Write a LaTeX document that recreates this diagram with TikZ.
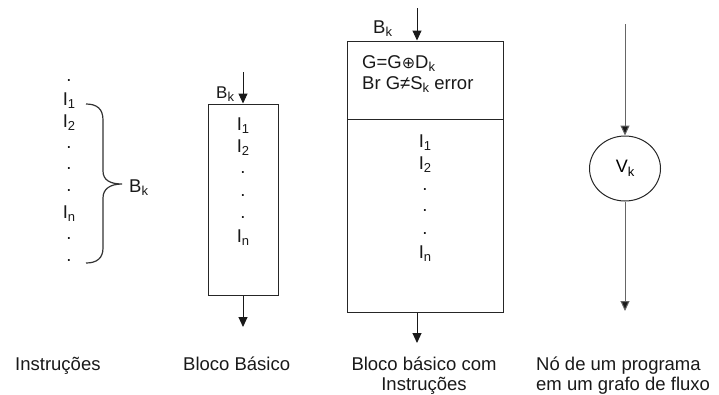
\documentclass[tikz,border=0pt]{standalone}
\usepackage{fontspec}
\setmainfont{Liberation Sans}
\newfontfamily\djv{DejaVu Sans}
\usetikzlibrary{arrows.meta,shapes.geometric}
\newcommand\sbs[1]{\raisebox{-0.4ex}{\fontsize{13}{13}\selectfont #1}}
\tikzset{
  txt/.style={inner sep=0pt, anchor=base, font=\fontsize{18.5}{22}\selectfont, text=black!90},
  txtw/.style={txt, anchor=base west},
  blk/.style={draw=black!85, line width=1pt, inner sep=0pt},
  arr/.style={draw=black!90, line width=1pt, -{Triangle[width=9pt,length=10pt]}},
  garr/.style={draw=black!60, line width=1pt, -{Triangle[width=9pt,length=10pt]}, arrows={-{Triangle[width=9pt,length=10pt,fill=black!90]}}},
}
\begin{document}
\begin{tikzpicture}[x=1pt,y=-1pt]
\useasboundingbox (0,0) rectangle (719,394);
% ---------- left column: instructions ----------
\node[txt] (l0) at (69,81) {.};
\node[txt] (l1) at (69,105) {I\sbs{1}};
\node[txt] (l2) at (69,127) {I\sbs{2}};
\node[txt] (l3) at (69,148) {.};
\node[txt] (l4) at (69,169) {.};
\node[txt] (l5) at (69,191) {.};
\node[txt] (l6) at (69,218) {I\sbs{n}};
\node[txt] (l7) at (69,239) {.};
\node[txt] (l8) at (69,261) {.};
\draw[draw=black!80, line width=1.2pt]
  (86,104) .. controls (97,104) and (103,109) .. (103,120) -- (103,171)
  .. controls (103,180) and (110,184) .. (122,184)
  .. controls (110,184) and (103,189) .. (103,198) -- (103,248)
  .. controls (103,258) and (97,263) .. (86,263);
\node[txtw] (lb) at (129,192) {B\sbs{k}};
% ---------- box 2: basic block ----------
\node[blk, minimum width=70pt, minimum height=191pt] (box2) at (243,199.5) {};
\coordinate (b2in) at (243,72);
\coordinate (b2out) at (243,327);
\draw[arr] (b2in) -- (box2.north);
\draw[arr] (box2.south) -- (b2out);
\node[txtw, font=\fontsize{17}{20}\selectfont] (b2b) at (216,98) {B\sbs{k}};
\node[txt] (b21) at (243,130) {I\sbs{1}};
\node[txt] (b22) at (243,152) {I\sbs{2}};
\node[txt] (b23) at (243,173) {.};
\node[txt] (b24) at (243,196) {.};
\node[txt] (b25) at (243,218) {.};
\node[txt] (b26) at (243,242) {I\sbs{n}};
% ---------- box 3: basic block with instructions ----------
\node[blk, minimum width=156pt, minimum height=78pt] (box3a) at (425,80) {};
\node[blk, minimum width=156pt, minimum height=193pt] (box3b) at (425,215.5) {};
\coordinate (b3in) at (417,8);
\coordinate (b3out) at (417,343);
\draw[arr] (b3in) -- (b3in |- box3a.north);
\draw[arr] (b3in |- box3b.south) -- (b3out);
\node[txtw] (b3b) at (373,33) {B\sbs{k}};
\node[txtw] (b3g) at (362,68) {G=G{\djv\fontsize{16}{18}\selectfont ⊕}D\sbs{k}};
\node[txtw] (b3r) at (362,89) {Br G≠S\sbs{k} error};
\node[txt] (b31) at (425,147) {I\sbs{1}};
\node[txt] (b32) at (425,169) {I\sbs{2}};
\node[txt] (b33) at (425,190) {.};
\node[txt] (b34) at (425,211) {.};
\node[txt] (b35) at (425,234) {.};
\node[txt] (b36) at (425,258) {I\sbs{n}};
% ---------- right column: flow graph node ----------
\node[ellipse, draw=black!85, line width=1pt, minimum width=71pt, minimum height=65pt, inner sep=0pt,
      font=\fontsize{18}{22}\selectfont] (vk) at (625,168.5) {V\sbs{k}};
\coordinate (vin) at (625,24);
\coordinate (vout) at (625,311);
\draw[garr] (vin) -- (vk.north);
\draw[garr] (vk.south) -- (vout);
% ---------- captions ----------
\node[txtw] (c1) at (15,370) {Instruções};
\node[txtw] (c2) at (183,370) {Bloco Básico};
\node[txt] (c3a) at (424,370) {Bloco básico com};
\node[txt] (c3b) at (424,390) {Instruções};
\node[txtw] (c4a) at (536,370) {Nó de um programa};
\node[txtw] (c4b) at (536,390) {em um grafo de fluxo};
\end{tikzpicture}
\end{document}
